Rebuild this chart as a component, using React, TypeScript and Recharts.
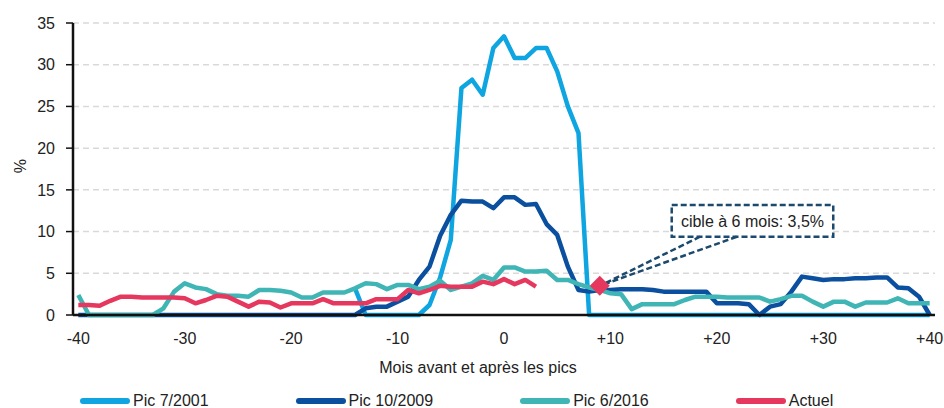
import React from 'react';
import { ComposedChart, Line, XAxis, YAxis, CartesianGrid, Legend, ReferenceArea, ReferenceLine } from 'recharts';

const FONT = "'Liberation Sans', Arial, sans-serif";

// mois avant / après les pics
const months = [
  -40, -39, -38, -37, -36, -35, -34, -33, -32, -31,
  -30, -29, -28, -27, -26, -25, -24, -23, -22, -21,
  -20, -19, -18, -17, -16, -15, -14, -13, -12, -11,
  -10, -9, -8, -7, -6, -5, -4, -3, -2, -1,
  0, 1, 2, 3, 4, 5, 6, 7, 8, 9,
  10, 11, 12, 13, 14, 15, 16, 17, 18, 19,
  20, 21, 22, 23, 24, 25, 26, 27, 28, 29,
  30, 31, 32, 33, 34, 35, 36, 37, 38, 39,
  40,
];

const pic2001 = [
  null, null, null, null, null, null, null, null, null, null,
  null, null, null, null, null, null, null, null, null, null,
  null, null, null, null, null, null, 3.2, 0, 0, 0,
  0, 0, 0, 1.2, 4.5, 9, 27.2, 28.2, 26.4, 32.0,
  33.4, 30.8, 30.8, 32.0, 32.0, 29.2, 25.0, 21.8, 0, 0,
  0, 0, 0, 0, 0, 0, 0, 0, 0, 0,
  0, 0, 0, 0, 0, 0, 0, 0, 0, 0,
  0, 0, 0, 0, 0, 0, 0, 0, 0, 0,
  0,
];

const pic2009 = [
  0, 0, 0, 0, 0, 0, 0, 0, 0, 0,
  0, 0, 0, 0, 0, 0, 0, 0, 0, 0,
  0, 0, 0, 0, 0, 0, 0, 0.8, 1.0, 1.0,
  1.6, 2.2, 4.2, 5.8, 9.5, 12.0, 13.7, 13.6, 13.6, 12.8,
  14.1, 14.1, 13.2, 13.3, 10.9, 9.6, 5.8, 3.0, 2.8, 3.0,
  3.0, 3.1, 3.1, 3.1, 3.0, 2.8, 2.8, 2.8, 2.8, 2.8,
  1.4, 1.4, 1.4, 1.3, 0, 1.0, 1.3, 2.8, 4.6, 4.4,
  4.2, 4.3, 4.3, 4.4, 4.4, 4.5, 4.5, 3.3, 3.2, 2.2,
  0,
];

const pic2016 = [
  2.4, 0, 0, 0, 0, 0, 0, 0, 0.8, 2.8,
  3.8, 3.3, 3.1, 2.5, 2.3, 2.3, 2.2, 3.0, 3.0, 2.9,
  2.7, 2.1, 2.1, 2.7, 2.7, 2.7, 3.2, 3.8, 3.7, 3.1,
  3.6, 3.6, 3.1, 3.4, 4.1, 3.0, 3.4, 3.8, 4.7, 4.2,
  5.7, 5.7, 5.2, 5.2, 5.3, 4.2, 4.2, 3.7, 3.3, 3.0,
  2.6, 2.5, 0.7, 1.3, 1.3, 1.3, 1.3, 1.8, 2.2, 2.2,
  2.2, 2.1, 2.1, 2.1, 2.1, 1.6, 1.9, 2.3, 2.3, 1.6,
  1.0, 1.6, 1.6, 1.0, 1.5, 1.5, 1.5, 2.0, 1.4, 1.4,
  1.4,
];

const actuel = [
  1.2, 1.2, 1.1, 1.7, 2.2, 2.2, 2.1, 2.1, 2.1, 2.1,
  2.0, 1.4, 1.8, 2.3, 2.2, 1.6, 1.0, 1.6, 1.5, 0.9,
  1.4, 1.4, 1.4, 1.9, 1.4, 1.4, 1.4, 1.4, 1.9, 1.9,
  1.9, 3.0, 2.6, 3.0, 3.5, 3.4, 3.4, 3.4, 4.0, 3.7,
  4.3, 3.7, 4.2, 3.4, null, null, null, null, null, null,
  null, null, null, null, null, null, null, null, null, null,
  null, null, null, null, null, null, null, null, null, null,
  null, null, null, null, null, null, null, null, null, null,
  null,
];

// cible à 6 mois
const cibleMonth = 9;
const cibleValue = 3.5;
const cibleText = 'cible à 6 mois: 3,5%';

const xTicks = [-40, -30, -20, -10, 0, 10, 20, 30, 40];
const yTicks = [0, 5, 10, 15, 20, 25, 30, 35];

const series = [
  { key: 'pic2001', name: 'Pic 7/2001', color: '#0EA5E1' },
  { key: 'pic2009', name: 'Pic 10/2009', color: '#0B4F9F' },
  { key: 'pic2016', name: 'Pic 6/2016', color: '#3FB6B5' },
  { key: 'actuel', name: 'Actuel', color: '#E6375F' },
];

const data = months.map((m, i) => ({
  month: m,
  pic2001: pic2001[i],
  pic2009: pic2009[i],
  pic2016: pic2016[i],
  actuel: actuel[i],
  cible: m === cibleMonth ? cibleValue : null,
}));

const NAVY = '#1B4A6E';

const fmtX = (v) => (v > 0 ? `+${v}` : `${v}`);

const Diamond = (props) => {
  const { cx, cy, index } = props;
  if (cx == null || cy == null) return <g key={index} />;
  const r = 10;
  return (
    <path
      key={index}
      d={`M${cx},${cy - r}L${cx + r},${cy}L${cx},${cy + r}L${cx - r},${cy}Z`}
      fill="#E6375F"
    />
  );
};

const renderLegend = () => (
  <div style={{ display: 'flex', paddingLeft: 80, fontFamily: FONT, fontSize: 16, color: '#222', whiteSpace: 'nowrap' }}>
    {series.map((s) => (
      <div key={s.key} style={{ display: 'flex', alignItems: 'center', marginRight: 87, flex: 'none' }}>
        <svg width={50} height={8} style={{ flex: 'none' }}>
          <line x1={3} y1={4} x2={47} y2={4} stroke={s.color} strokeWidth={6} strokeLinecap="round" />
        </svg>
        <span style={{ marginLeft: 3 }}>{s.name}</span>
      </div>
    ))}
  </div>
);

const tickStyle = { fontSize: 16, fill: '#222', fontFamily: FONT };

const App = () => {
  return (
    <div style={{ position: 'absolute', left: 0, top: 0 }}>
      <ComposedChart
        width={944}
        height={408}
        data={data}
        margin={{ top: 23, right: 9, left: 0, bottom: 33 }}
      >
        <CartesianGrid vertical={false} strokeDasharray="6 4" stroke="#D9D9D9" strokeWidth={1.5} />
        <XAxis
          dataKey="month"
          type="number"
          domain={[-40.5, 40.5]}
          ticks={xTicks}
          tickFormatter={fmtX}
          tickLine={false}
          tickSize={0}
          tickMargin={18}
          axisLine={{ stroke: '#111', strokeWidth: 2.5 }}
          tick={tickStyle}
          height={60}
          label={{
            content: ({ viewBox }) => (
              <text
                x={viewBox.x + viewBox.width / 2 - 26}
                y={viewBox.y + 58}
                textAnchor="middle"
                fontSize={16}
                fontFamily={FONT}
                fill="#222"
              >
                Mois avant et après les pics
              </text>
            ),
          }}
        />
        <YAxis
          type="number"
          domain={[0, 35]}
          ticks={yTicks}
          width={73}
          tickSize={7}
          tickMargin={11}
          axisLine={{ stroke: '#111', strokeWidth: 2.5 }}
          tickLine={{ stroke: '#111', strokeWidth: 1.5 }}
          tick={tickStyle}
          label={{
            content: ({ viewBox }) => {
              const x = viewBox.x + 20;
              const y = viewBox.y + viewBox.height / 2 - 3;
              return (
                <text
                  x={x}
                  y={y}
                  transform={`rotate(-90, ${x}, ${y})`}
                  textAnchor="middle"
                  dominantBaseline="central"
                  fontSize={16}
                  fontFamily={FONT}
                  fill="#222"
                >
                  %
                </text>
              );
            },
          }}
        />
        <Legend
          verticalAlign="middle"
          layout="horizontal"
          align="center"
          content={renderLegend}
          wrapperStyle={{ top: 392, left: 0, width: 944 }}
        />
        {series.map((s) => (
          <Line
            key={s.key}
            type="linear"
            dataKey={s.key}
            name={s.name}
            stroke={s.color}
            strokeWidth={4.5}
            strokeLinejoin="round"
            dot={false}
            activeDot={false}
            isAnimationActive={false}
          />
        ))}
        <Line
          dataKey="cible"
          stroke="none"
          legendType="none"
          dot={Diamond}
          activeDot={false}
          isAnimationActive={false}
        />
        <ReferenceArea
          x1={15.76}
          x2={30.94}
          y1={9.38}
          y2={13.18}
          fill="#fff"
          fillOpacity={1}
          stroke={NAVY}
          strokeWidth={2.5}
          strokeDasharray="6 3"
          ifOverflow="visible"
          label={{ value: cibleText, position: 'center', fontSize: 16, fontFamily: FONT, fill: '#222' }}
        />
        <ReferenceLine
          segment={[{ x: 18.42, y: 9.38 }, { x: cibleMonth, y: cibleValue }]}
          stroke={NAVY}
          strokeWidth={2.5}
          strokeDasharray="6 3"
          ifOverflow="visible"
        />
        <ReferenceLine
          segment={[{ x: 21.87, y: 9.38 }, { x: cibleMonth, y: cibleValue }]}
          stroke={NAVY}
          strokeWidth={2.5}
          strokeDasharray="6 3"
          ifOverflow="visible"
        />
      </ComposedChart>
    </div>
  );
};

export default App;
